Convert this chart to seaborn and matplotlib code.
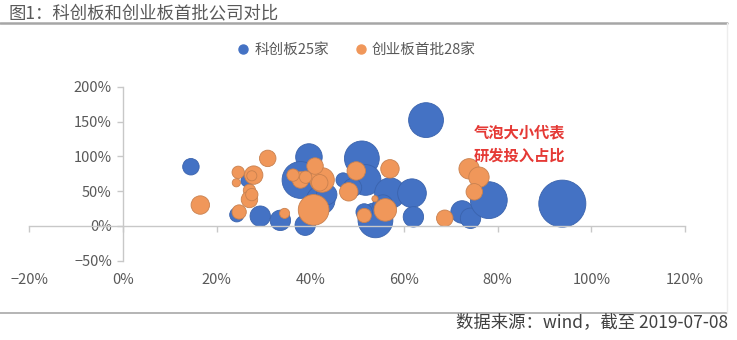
import matplotlib
matplotlib.use("Agg")
import matplotlib.pyplot as plt
from matplotlib.lines import Line2D
import seaborn as sns
import pandas as pd
import numpy as np

# ---------------- data ----------------
series_names = ["科创板25家", "创业板首批28家"]

# 科创板 (x: %, y: %, rd: R&D share -> bubble size)
kc_x = [14.5, 29.3, 33.6, 24.3, 39.7, 37.9, 42.2, 38.9, 51.0, 51.8, 47.0, 53.9, 51.5,
        57.0, 61.7, 62.0, 64.7, 72.4, 74.2, 78.1, 93.8, 26.5, 43.5, 55.5, 49.0]
kc_y = [85, 14, 8, 16, 99, 66, 37, 1, 97, 66, 66, 8, 20,
        47, 47, 13, 152, 20, 11, 37, 32, 65, 45, 30, 55]
kc_rd = [3.2, 4.9, 4.9, 2.4, 8.3, 16.0, 9.7, 4.9, 14.3, 11.1, 2.4, 14.3, 3.2,
         11.1, 9.7, 4.9, 14.3, 6.0, 4.9, 16.0, 26.1, 1.8, 4.9, 4.9, 4.0]

# 创业板首批
cy_x = [16.5, 24.6, 24.2, 27.9, 30.9, 27.0, 27.0, 24.8, 34.5, 40.7, 42.5, 41.0, 37.9, 36.3,
        49.8, 57.0, 48.2, 56.0, 51.5, 53.8, 68.7, 73.9, 76.0, 75.0, 27.5, 27.5, 39.0, 42.0]
cy_y = [30, 77, 62, 73, 97, 51, 38, 20, 18, 23, 66, 86, 66, 73,
        79, 82, 49, 23, 15, 39, 11, 82, 70, 49, 45, 72, 70, 62]
cy_rd = [4.0, 1.8, 0.8, 4.0, 3.2, 1.8, 3.2, 2.4, 1.2, 11.1, 7.1, 3.2, 3.2, 1.8,
         4.0, 4.0, 4.0, 6.0, 2.4, 0.45, 3.2, 4.9, 4.9, 3.2, 1.8, 1.2, 1.8, 3.2]

x_ticks = [-20, 0, 20, 40, 60, 80, 100, 120]
y_ticks = [-50, 0, 50, 100, 150, 200]

blue = "#4472C4"
orange = "#F0975A"

# ---------------- style ----------------
sns.set_theme(style="white")
plt.rcParams["font.family"] = ["Noto Sans CJK SC", "DejaVu Sans"]
plt.rcParams["axes.unicode_minus"] = True

df_kc = pd.DataFrame({"x": kc_x, "y": kc_y, "rd": kc_rd})
df_cy = pd.DataFrame({"x": cy_x, "y": cy_y, "rd": cy_rd})

fig = plt.figure(figsize=(7.37, 3.4), dpi=100)
ax = fig.add_axes([0.0398, 0.2332, 0.8897, 0.5118])

size_norm = (0, 30)
size_range = (0, 44 * 30)
sns.scatterplot(data=df_kc, x="x", y="y", size="rd", sizes=size_range, size_norm=size_norm,
                color=blue, edgecolor="#3A63AD", linewidth=0.6, alpha=1, legend=False, ax=ax)
sns.scatterplot(data=df_cy, x="x", y="y", size="rd", sizes=size_range, size_norm=size_norm,
                color=orange, edgecolor="#C9814F", linewidth=0.6, alpha=1, legend=False, ax=ax)

ax.set_xlim(-20, 120)
ax.set_ylim(-50, 200)
ax.set_xlabel("")
ax.set_ylabel("")
ax.set_xticks(x_ticks)
ax.set_xticklabels([f"{v}%".replace("-", "\u2212") for v in x_ticks])
ax.set_yticks(y_ticks)
ax.set_yticklabels([f"{v}%".replace("-", "\u2212") for v in y_ticks])

for s in ["right", "bottom"]:
    ax.spines[s].set_visible(False)
ax.spines["left"].set_position(("data", 0))
ax.spines["top"].set_position(("data", 0))
for s in ["left", "top"]:
    ax.spines[s].set_color("#C8C8C8")
    ax.spines[s].set_linewidth(1.0)

ax.tick_params(axis="x", bottom=False, top=True, labelbottom=True, labeltop=False,
               direction="in", length=4.5, width=1, color="#C8C8C8", pad=9,
               labelsize=10.5, labelcolor="#595959")
ax.tick_params(axis="y", left=True, direction="out", length=4.5, width=1,
               color="#C8C8C8", pad=3.5, labelsize=10.5, labelcolor="#595959")

# annotation
ax.text(74.8, 133.6, "气泡大小代表", color="#E53935", fontsize=11, fontweight="bold",
        ha="left", va="center")
ax.text(74.8, 101.6, "研发投入占比", color="#E53935", fontsize=11, fontweight="bold",
        ha="left", va="center")

# legend
handles = [Line2D([0], [0], marker="o", linestyle="", markersize=6.5,
                  markerfacecolor=blue, markeredgecolor=blue),
           Line2D([0], [0], marker="o", linestyle="", markersize=6.5,
                  markerfacecolor=orange, markeredgecolor=orange)]
fig.legend(handles, series_names, loc="center", bbox_to_anchor=(0.483, 0.853), ncol=2,
           frameon=False, fontsize=10.5, handletextpad=0.25, columnspacing=1.7,
           labelcolor="#595959", handlelength=1.0)

# title and frame lines
fig.text(8 / 737, 1 - 13 / 340, "图1：科创板和创业板首批公司对比", fontsize=12.5,
         color="#595959", ha="left", va="center")
fig.add_artist(Line2D([0, 727 / 737], [1 - 22.7 / 340] * 2, color="#A6A6A6", lw=1.8))
fig.add_artist(Line2D([0, 727 / 737], [1 - 313.3 / 340] * 2, color="#B4B4B4", lw=1.4))
fig.add_artist(Line2D([727 / 737] * 2, [1 - 22.7 / 340, 1 - 313.3 / 340], color="#EDEDED", lw=1))
fig.text(728 / 737, 1 - 322 / 340, "数据来源：wind，截至 2019-07-08", fontsize=12.5,
         color="#404040", ha="right", va="center")

fig.savefig("out.png", dpi=100)
